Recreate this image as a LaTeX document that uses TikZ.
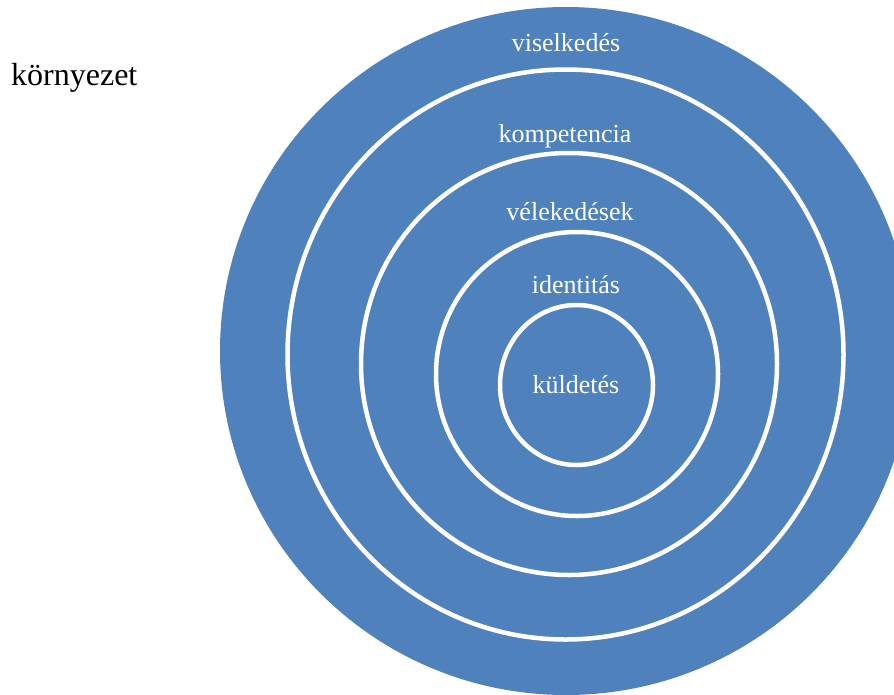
\documentclass[tikz,border=0pt]{standalone}
\usepackage{fontspec}
\setmainfont{Liberation Serif}
\definecolor{ringblue}{HTML}{4F81BD}
\begin{document}
\begin{tikzpicture}[x=1pt,y=-1pt,
  ring/.style={draw=white,line width=4.5pt},
  lbl/.style={text=white,font=\fontsize{26}{30}\selectfont,anchor=base,inner sep=0pt},
  envlbl/.style={text=black,font=\fontsize{32}{36}\selectfont,anchor=base west,inner sep=0pt}]
\useasboundingbox (0,0) rectangle (894,694);
\fill[white] (0,0) rectangle (894,694);
\begin{scope}
  \clip (0,0) rectangle (894,694);
  \fill[ringblue] (566,351) ellipse [x radius=346, y radius=344];
  \draw[ring] (565.5,354.5) ellipse [x radius=278, y radius=285];
  \draw[ring] (569,364) ellipse [x radius=208, y radius=211];
  \draw[ring] (577,374) ellipse [x radius=141, y radius=142];
  \draw[ring] (576.5,385) ellipse [x radius=76.5, y radius=80];
\end{scope}
\node[lbl] (viselkedes) at (566,51) {viselkedés};
\node[lbl] (kompetencia) at (565,142) {kompetencia};
\node[lbl] (velekedesek) at (570,220) {vélekedések};
\node[lbl] (identitas) at (576,293) {identitás};
\node[lbl] (kuldetes) at (576,393) {küldetés};
\node[envlbl] (kornyezet) at (11,85) {környezet};
\end{tikzpicture}
\end{document}
